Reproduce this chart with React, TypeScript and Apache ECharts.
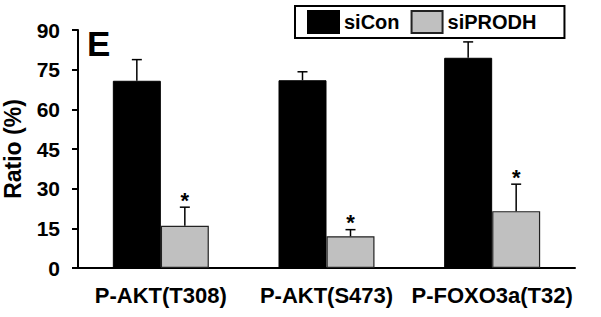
import React, { useEffect, useRef } from "react";
import * as echarts from "echarts";

const categories = ["P-AKT(T308)", "P-AKT(S473)", "P-FOXO3a(T32)"];
const siConValues = [70.8, 71, 79.5];
const siConErrors = [8, 3.2, 6];
const siPRODHValues = [16, 12, 21.5];
const siPRODHErrors = [7, 2.5, 10.2];
const siPRODHStars = ["*", "*", "*"];
const yTicks = { min: 0, max: 90, interval: 15 };

const FONT = "Arial, 'Liberation Sans', sans-serif";
const BAR_W = 48;

export default function App() {
  const ref = useRef<HTMLDivElement>(null);
  useEffect(() => {
    document.body.style.margin = "0";
    if (!ref.current) return;
    const chart = echarts.init(ref.current, undefined, { renderer: "svg" });

    const errItem = (sign: number, stars: boolean) => (params: any, api: any) => {
      const idx = api.value(0);
      const val = api.value(1);
      const err = api.value(2);
      const base = api.coord([idx, val]);
      const top = api.coord([idx, val + err]);
      const x = base[0] + sign * (BAR_W / 2);
      const children: any[] = [
        { type: "line", shape: { x1: x, y1: base[1], x2: x, y2: top[1] }, style: { stroke: "#000", lineWidth: 1.5 } },
        { type: "line", shape: { x1: x - 5, y1: top[1], x2: x + 5, y2: top[1] }, style: { stroke: "#000", lineWidth: 1.5 } },
      ];
      if (stars) {
        children.push({
          type: "text",
          x,
          y: top[1] - 7,
          style: { text: siPRODHStars[params.dataIndex], fill: "#000", font: `bold 22px ${FONT}`, align: "center", verticalAlign: "middle" },
        });
      }
      return { type: "group", children };
    };

    chart.setOption({
      animation: false,
      grid: { left: 78, right: 26, top: 30, bottom: 49, outerBoundsMode: "none", containLabel: false },
      legend: {
        left: 295,
        top: 6,
        orient: "horizontal",
        padding: [4, 28, 4, 12],
        itemGap: 11,
        itemWidth: 31,
        itemHeight: 22,
        borderColor: "#000",
        borderWidth: 2,
        icon: "rect",
        textStyle: { fontFamily: FONT, fontWeight: "bold", fontSize: 20, color: "#000" },
        data: ["siCon", "siPRODH"],
      },
      graphic: [
        { type: "text", left: 87, top: 26, style: { text: "E", font: `bold 35px ${FONT}`, fill: "#000" } },
      ],
      xAxis: {
        type: "category",
        data: categories,
        axisLine: { lineStyle: { color: "#000", width: 2 } },
        axisTick: { show: false },
        axisLabel: { color: "#000", fontFamily: FONT, fontWeight: "bold", fontSize: 22, margin: 16, interval: 0, hideOverlap: false },
      },
      yAxis: {
        type: "value",
        min: yTicks.min,
        max: yTicks.max,
        interval: yTicks.interval,
        name: "Ratio (%)",
        nameLocation: "middle",
        nameGap: 54,
        nameTextStyle: { color: "#000", fontFamily: FONT, fontWeight: "bold", fontSize: 23 },
        axisLine: { show: true, lineStyle: { color: "#000", width: 2 } },
        axisTick: { show: true, length: 6, lineStyle: { color: "#000", width: 2 } },
        splitLine: { show: false },
        axisLabel: { color: "#000", fontFamily: FONT, fontWeight: "bold", fontSize: 21, margin: 18 },
      },
      series: [
        {
          name: "siCon",
          type: "bar",
          data: siConValues,
          barWidth: BAR_W,
          barGap: "0%",
          itemStyle: { color: "#000", borderColor: "#000", borderWidth: 1 },
        },
        {
          name: "siPRODH",
          type: "bar",
          data: siPRODHValues,
          barWidth: BAR_W,
          barGap: "0%",
          itemStyle: { color: "#c0c0c0", borderColor: "#222", borderWidth: 1.2 },
        },
        {
          type: "custom",
          renderItem: errItem(-1, false),
          data: siConValues.map((v, i) => [i, v, siConErrors[i]]),
          encode: { x: 0, y: 1 },
          z: 5,
          silent: true,
        },
        {
          type: "custom",
          renderItem: errItem(1, true),
          data: siPRODHValues.map((v, i) => [i, v, siPRODHErrors[i]]),
          encode: { x: 0, y: 1 },
          z: 5,
          silent: true,
        },
      ],
    });
    return () => chart.dispose();
  }, []);
  return <div ref={ref} style={{ width: 601, height: 317 }} />;
}
